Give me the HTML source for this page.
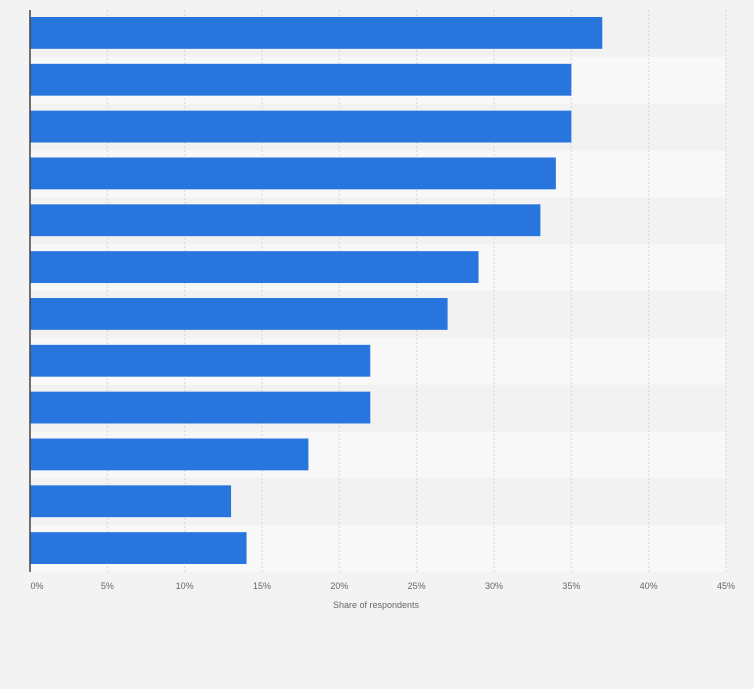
<!DOCTYPE html>
<html><head><meta charset="utf-8"><style>
body{margin:0;background:#f3f3f3;}
svg{display:block;font-family:"Liberation Sans",sans-serif;}
</style></head><body>
<svg id="c" width="754" height="689"></svg>
<script>
const categories=["Item 1","Item 2","Item 3","Item 4","Item 5","Item 6","Item 7","Item 8","Item 9","Item 10","Item 11","Item 12"];
const values=[37,35,35,34,33,29,27,22,22,18,13,14];
const tickLabels=["0%","5%","10%","15%","20%","25%","30%","35%","40%","45%"];
const tickValues=[0,5,10,15,20,25,30,35,40,45];
const NS="http://www.w3.org/2000/svg";
const svg=document.getElementById('c');
const x0=30,x1=726,y0=10,y1=572,xmax=45;
const xs=v=>x0+v/xmax*(x1-x0);
const band=(y1-y0)/categories.length;
const ys=i=>y0+i*band;
function mk(t,a){const e=document.createElementNS(NS,t);for(const k in a)e.setAttribute(k,a[k]);svg.appendChild(e);return e;}
categories.forEach((c,i)=>{
 const r=mk('rect',{x:x0,y:ys(i),width:x1-x0,height:band,fill:i%2?'#f8f8f8':'#f2f2f2'});
 
 
});
tickValues.forEach((v,i)=>{
 if(v>0){const g=mk('line',{x1:xs(v),x2:xs(v),y1:y0,y2:y1,stroke:'#d8d8d8','stroke-dasharray':'2,2'});
 
 }
 const t=mk('text',{x:xs(v)+(v===0?7:0),y:589,'font-size':9,fill:'#666','text-anchor':'middle'});
 t.textContent=tickLabels[i];
 
 
});
values.forEach((v,i)=>{
 const b=mk('rect',{x:x0,y:ys(i)+7,width:xs(v)-x0,height:band-15,fill:'#2876dd'});
 
 
});
const ax=mk('line',{x1:x0,x2:x0,y1:y0,y2:y1,stroke:'#444','stroke-width':1.5});


const tt=mk('text',{x:376,y:608,'font-size':9,fill:'#666','text-anchor':'middle'});
tt.textContent='Share of respondents';


</script>
</body></html>
